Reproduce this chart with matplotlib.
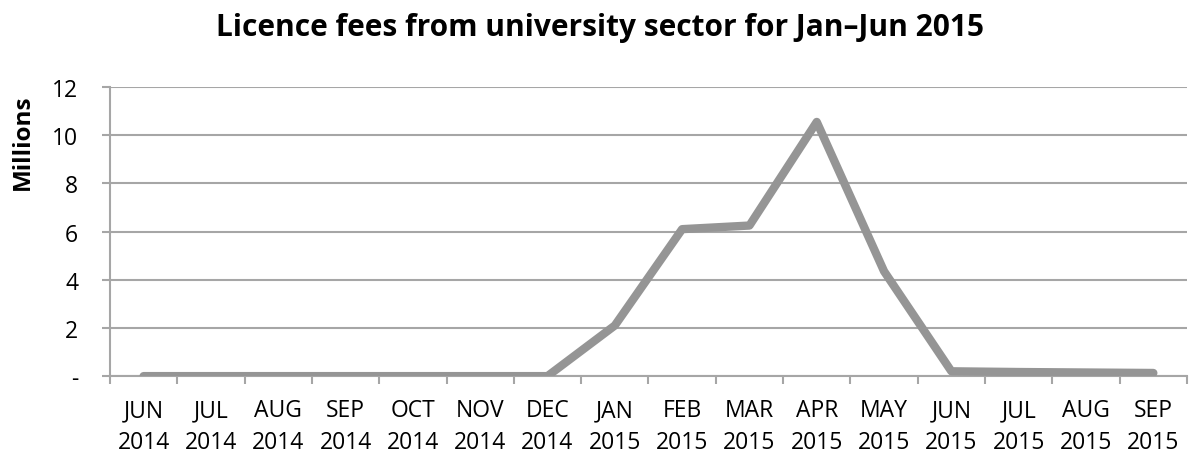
import matplotlib
matplotlib.use("Agg")
import matplotlib.pyplot as plt
import numpy as np

months = ["JUN\n2014", "JUL\n2014", "AUG\n2014", "SEP\n2014", "OCT\n2014", "NOV\n2014",
          "DEC\n2014", "JAN\n2015", "FEB\n2015", "MAR\n2015", "APR\n2015", "MAY\n2015",
          "JUN\n2015", "JUL\n2015", "AUG\n2015", "SEP\n2015"]
fees_millions = [0, 0, 0, 0, 0, 0, 0, 2.1, 6.1, 6.25, 10.55, 4.35, 0.2, 0.17, 0.15, 0.13]
y_ticks = [0, 2, 4, 6, 8, 10, 12]
y_tick_labels = ["-", "2", "4", "6", "8", "10", "12"]
title = "Licence fees from university sector for Jan\u2013Jun 2015"

plt.rcParams['font.family'] = ['Open Sans', 'DejaVu Sans']

fig = plt.figure(figsize=(11.95, 4.56), dpi=100)
ax = fig.add_axes([0.092, 0.173, 0.9013, 0.634])

x = np.arange(len(months))
ax.plot(x, fees_millions, color="#959595", linewidth=6, solid_capstyle="round",
        solid_joinstyle="round", zorder=3)

ax.set_xlim(-0.5, len(months) - 0.5)
ax.set_ylim(0, 12)
ax.set_yticks(y_ticks)
ax.set_yticklabels(y_tick_labels, fontsize=16.5)
ax.set_xticks(x)
ax.set_xticklabels(months, fontsize=16.5, linespacing=1.4)
ax.set_xticks(np.arange(-0.5, len(months), 1), minor=True)
ax.tick_params(axis="x", which="major", length=0, pad=16)
ax.tick_params(axis="x", which="minor", length=5.5, width=1.5, color="#a6a6a6", direction="out")
ax.tick_params(axis="y", length=5.8, width=1.5, color="#a6a6a6", pad=17)

ax.grid(axis="y", color="#a6a6a6", linewidth=1.5, zorder=0)
for s in ["top", "right"]:
    ax.spines[s].set_visible(False)
for s in ["left", "bottom"]:
    ax.spines[s].set_color("#a6a6a6")
    ax.spines[s].set_linewidth(1.5)

ax.set_ylabel("Millions", fontsize=17.5, fontweight="bold")
ax.yaxis.set_label_coords(-0.07, 0.813)
fig.text(0.502, 0.921, title, ha="center", va="baseline", fontsize=21.5, fontweight="bold")

fig.savefig("out.png", dpi=100)
